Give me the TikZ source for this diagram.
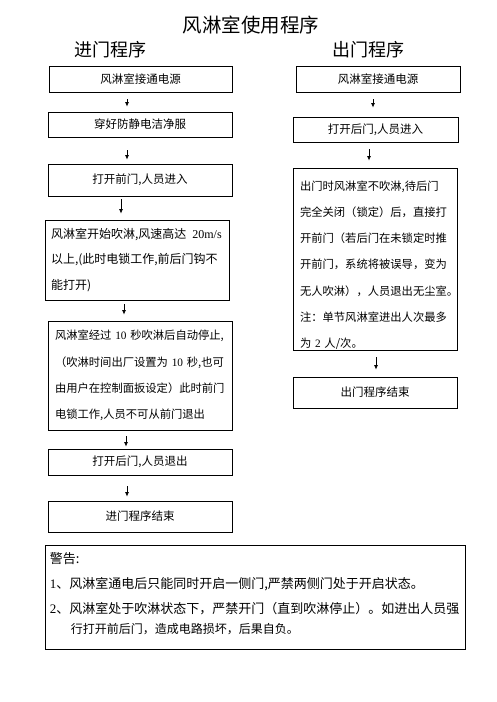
\documentclass[tikz,border=0pt]{standalone}
\usepackage{fontspec}
\setmainfont{Noto Sans CJK SC}
\newfontfamily\lat{Liberation Serif}
\usetikzlibrary{arrows.meta}
\begin{document}
\begin{tikzpicture}[x=1pt,y=-1pt,
  box/.style={draw, line width=0.8pt, inner sep=0pt, font=\fontsize{11.5}{14}\selectfont},
  para/.style={draw, line width=0.8pt, inner ysep=0pt, align=left},
  arr/.style={-{Latex[length=4.5pt,width=4pt]}, line width=0.8pt},
  ttl/.style={inner sep=0pt, font=\fontsize{19.5}{22}\selectfont},
  sub/.style={inner sep=0pt, font=\fontsize{18}{21}\selectfont}
]
\useasboundingbox (0,0) rectangle (496,702);
\fill[white] (0,0) rectangle (496,702);

% titles
\node[ttl] (T) at (251,25) {风淋室使用程序};
\node[sub] (S1) at (110.5,50) {进门程序};
\node[sub] (S2) at (368,50) {出门程序};

% left column
\node[box, minimum width=183pt, minimum height=26pt] (L1) at (140.5,79) {风淋室接通电源};
\node[box, minimum width=184pt, minimum height=25pt] (L2) at (140,124.5) {穿好防静电洁净服};
\node[box, minimum width=184pt, minimum height=32pt] (L3) at (140,180) {打开前门,人员进入};
\node[para, inner xsep=6pt, text width=172pt, minimum width=184pt, minimum height=80pt,
      font=\fontsize{12}{25.5}\selectfont] (L4) at (137,260)
  {\mbox{风淋室开始吹淋,风速高达\hspace{6pt}{\lat 20m/s}}\\以上,(此时电锁工作,前后门钩不\\能打开)};
\node[para, inner xsep=7pt, text width=170pt, minimum width=184pt, minimum height=109pt,
      font=\fontsize{11.3}{26.3}\selectfont] (L5) at (140,375.5)
  {风淋室经过 {\lat 10} 秒吹淋后自动停止,\\（吹淋时间出厂设置为 {\lat 10} 秒,也可\\由用户在控制面扳设定）此时前门\\电锁工作,人员不可从前门退出};
\node[box, minimum width=184pt, minimum height=26pt] (L6) at (140,462) {打开后门,人员退出};
\node[box, minimum width=184pt, minimum height=31pt] (L7) at (140,516.5) {进门程序结束};

% right column
\node[box, minimum width=164pt, minimum height=26pt] (R1) at (378,79) {风淋室接通电源};
\node[box, minimum width=165pt, minimum height=25pt] (R2) at (375.5,129.5) {打开后门,人员进入};
\node[para, inner xsep=7pt, text width=150pt, minimum width=164pt, minimum height=182pt,
      font=\fontsize{11.3}{26.3}\selectfont] (R3) at (375,259)
  {\rule{0pt}{22pt}出门时风淋室不吹淋,待后门\\完全关闭（锁定）后，直接打\\开前门（若后门在未锁定时推\\开前门，系统将被误导，变为\\无人吹淋），人员退出无尘室。\\注：单节风淋室进出人次最多\\为 {\lat 2} 人/次。};
\node[box, minimum width=164pt, minimum height=31pt] (R4) at (375,392.5) {出门程序结束};

% arrows
\draw[arr, shorten <=7pt, shorten >=5pt]  ([xshift=-13.5pt]L1.south) -- ([xshift=-13.5pt]L1.south |- L2.north);
\draw[arr, shorten <=13pt, shorten >=4pt] ([xshift=-13pt]L2.south) -- ([xshift=-13pt]L2.south |- L3.north);
\draw[arr, shorten <=3pt, shorten >=6pt]  ([xshift=-19pt]L3.south) -- ([xshift=-19pt]L3.south |- L4.north);
\draw[arr, shorten <=4pt, shorten >=6pt]  ([xshift=-13pt]L4.south) -- ([xshift=-13pt]L4.south |- L5.north);
\draw[arr, shorten <=6pt, shorten >=2pt]  ([xshift=-14pt]L5.south) -- ([xshift=-14pt]L5.south |- L6.north);
\draw[arr, shorten <=11pt, shorten >=4pt] ([xshift=-13pt]L6.south) -- ([xshift=-13pt]L6.south |- L7.north);
\draw[arr, shorten <=7pt, shorten >=9pt]  ([xshift=-5pt]R1.south) -- ([xshift=-5pt]R1.south |- R2.north);
\draw[arr, shorten <=7pt, shorten >=7pt]  ([xshift=-6.5pt]R2.south) -- ([xshift=-6.5pt]R2.south |- R3.north);
\draw[arr, shorten <=7pt, shorten >=7pt]  ([xshift=1pt]R3.south) -- ([xshift=1pt]R3.south |- R4.north);

% warning
\node[draw, line width=0.8pt, minimum width=420pt, minimum height=104pt, inner sep=0pt] (W) at (255,597) {};
\node[anchor=north west, inner sep=0pt, text width=414pt, align=left,
      font=\fontsize{13}{25}\selectfont] (WT) at ([xshift=5pt,yshift=-8pt]W.north west)
  {警告:\\{\lat 1}、风淋室通电后只能同时开启一侧门,严禁两侧门处于开启状态。\\{\lat 2}、风淋室处于吹淋状态下，严禁开门（直到吹淋停止）。如进出人员强\\[-5pt]\hspace*{21pt}{\fontsize{12}{20}\selectfont 行打开前后门，造成电路损坏，后果自负。}};
\end{tikzpicture}
\end{document}
